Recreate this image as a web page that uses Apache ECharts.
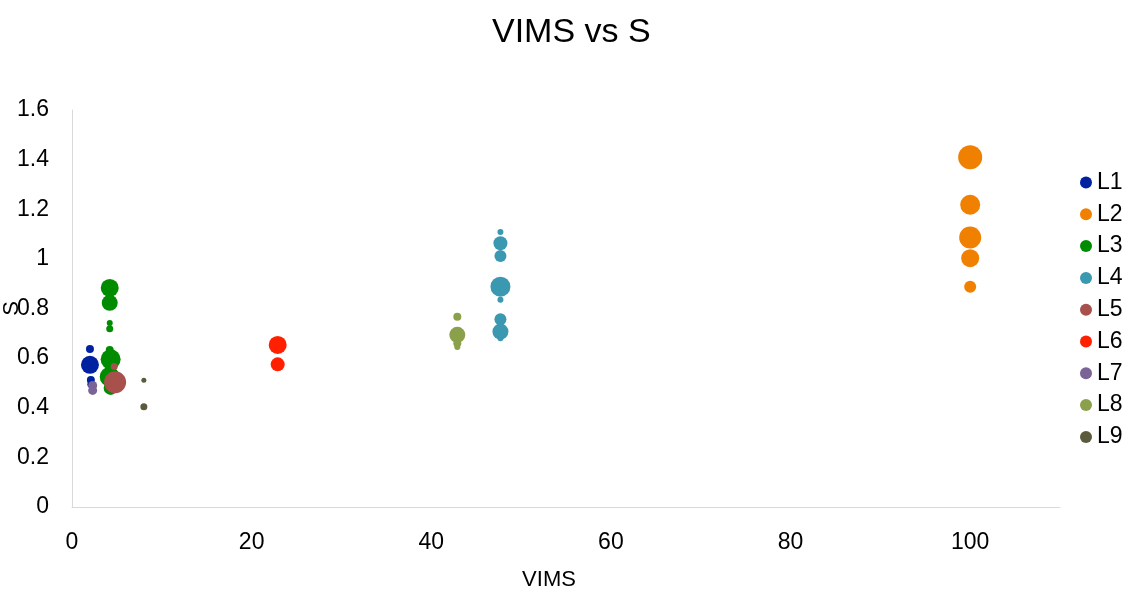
<!DOCTYPE html>
<html><head><meta charset="utf-8">
<script src="https://cdn.jsdelivr.net/npm/echarts@6/dist/echarts.min.js"></script>
<style>html,body{margin:0;padding:0;background:#fff}#c{width:1133px;height:591px}</style>
</head><body><div id="c"></div>
<script>
// [VIMS, S, bubble size]
const L1 = [[2.0,0.637,8],[2.0,0.573,18],[2.1,0.512,8],[2.1,0.495,7]];
const L2 = [[100,1.41,24],[100,1.218,20],[100,1.086,22],[100,1.003,18],[100,0.888,12]];
const L3 = [[4.2,0.883,18],[4.2,0.823,16],[4.2,0.742,6],[4.2,0.718,7],[4.2,0.633,8],[4.3,0.595,20],[4.2,0.565,10],[4.2,0.525,20],[4.3,0.48,14]];
const L4 = [[47.7,1.108,6],[47.7,1.063,14],[47.7,1.012,12],[47.7,0.888,20],[47.7,0.835,6],[47.7,0.757,12],[47.7,0.707,16],[47.7,0.68,6]];
const L5 = [[4.7,0.566,7],[4.8,0.503,22]];
const L6 = [[22.9,0.653,18],[22.9,0.575,14]];
const L7 = [[2.3,0.49,9],[2.3,0.47,9]];
const L8 = [[42.9,0.767,8],[42.9,0.694,16],[42.9,0.66,8],[42.9,0.645,6]];
const L9 = [[8.0,0.511,5],[8.0,0.404,7]];
const names = ['L1','L2','L3','L4','L5','L6','L7','L8','L9'];
const datasets = [L1,L2,L3,L4,L5,L6,L7,L8,L9];
const colors = ['#0022A0','#F08000','#008C00','#3A98B0','#A8504B','#FF2000','#7A6396','#8BA04A','#5C5A3C'];
const xTicks = [0,20,40,60,80,100];
const yTicks = [0,0.2,0.4,0.6,0.8,1,1.2,1.4,1.6];

const font = 'Liberation Sans, Arial, sans-serif';
const chart = echarts.init(document.getElementById('c'));
chart.setOption({
  animation:false,
  color: colors,
  title:{text:'VIMS vs S', left:487, top:11, textStyle:{fontFamily:font, fontSize:34, fontWeight:'normal', color:'#000'}},
  legend:{orient:'vertical', left:1075, top:166, icon:'circle', itemWidth:12, itemHeight:12, itemGap:8.8,
    textStyle:{fontFamily:font, fontSize:23, color:'#000', lineHeight:23}, data:names},
  grid:{left:72, right:73, top:110, bottom:84, containLabel:false, outerBoundsMode:'none'},
  xAxis:{type:'value', min:0, max:110, interval:20, name:'VIMS', nameLocation:'middle', nameGap:62, nameMoveOverlap:false,
    nameTextStyle:{fontFamily:font, fontSize:22, color:'#000', padding:[0,34,0,0]},
    axisLine:{show:true, lineStyle:{color:'#D9D9D9'}}, axisTick:{show:false}, splitLine:{show:false},
    axisLabel:{fontFamily:font, fontSize:23, color:'#000', margin:24,
      formatter:v=> xTicks.includes(v)? String(v):''}},
  yAxis:{type:'value', min:0, max:1.6, interval:0.2, name:'S', nameLocation:'middle', nameGap:49, nameRotate:90, nameMoveOverlap:false,
    nameTextStyle:{fontFamily:font, fontSize:22, color:'#000', padding:[0,0,0,0]},
    axisLine:{show:true, lineStyle:{color:'#D9D9D9'}}, axisTick:{show:false}, splitLine:{show:false},
    axisLabel:{fontFamily:font, fontSize:23, color:'#000', margin:23,
      formatter:v=>{const t=yTicks.find(k=>Math.abs(k-v)<1e-9); return t===undefined?'':String(t);}}},
  series: datasets.map((d,i)=>({
    name:names[i], type:'scatter', data:d, symbol:'circle',
    symbolSize: p=>p[2], itemStyle:{color:colors[i], opacity:1}
  }))
});
</script></body></html>
